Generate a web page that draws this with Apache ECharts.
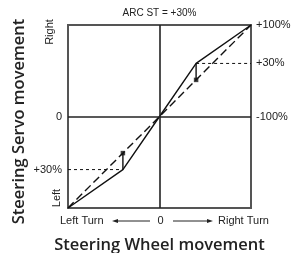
<!DOCTYPE html>
<html><head><meta charset="utf-8">
<script src="https://cdn.jsdelivr.net/npm/echarts@6/dist/echarts.min.js"></script>
<style>html,body{margin:0;padding:0;background:#fff}#c{width:292px;height:253px}</style>
</head><body><div id="c"></div>
<script>
// ---- data ----
const titleText = 'ARC ST = +30%';
const wheelX = [-100, -40, 0, 40, 100];          // steering wheel positions (%)
const servoCurve = [-100, -58, 0, 58, 100];      // servo output with ARC +30%
const linearX = [-100, 100];
const linearY = [-100, 100];                     // linear reference
const arcX = [-40, 40];
const arcLinearY = [-40, 40];
const arcCurveY = [-58, 58];
const rightLabels = ['+100%', '+30%', '-100%'];
const rightLabelVals = [100, 58, 0];
const leftLabels = ['0', '+30%'];
const leftLabelVals = [0, -58];
const leftRotLabels = ['Right', 'Left'];
const bottomLabels = ['Left Turn', '0', 'Right Turn'];
const xName = 'Steering Wheel movement';
const yName = 'Steering Servo movement';

const FONT = '"Liberation Sans", Arial, sans-serif';
const NAMEFONT = '600 16.5px "Open Sans", "Liberation Sans", sans-serif';
const chart = echarts.init(document.getElementById('c'), null, {renderer: 'canvas'});

const curve = wheelX.map((x, i) => [x, servoCurve[i]]);
const lin = linearX.map((x, i) => [x, linearY[i]]);
const series = [
  {type: 'line', data: lin, symbol: 'none', lineStyle: {color: '#111', width: 1.4, type: [8, 4]}, z: 3},
  {type: 'line', data: curve, symbol: 'none', lineStyle: {color: '#111', width: 1.4}, z: 4},
  {type: 'line', data: [[arcX[1], arcCurveY[1]], [100, arcCurveY[1]]], symbol: 'none', lineStyle: {color: '#111', width: 1, type: [3, 3]}},
  {type: 'line', data: [[-100, arcCurveY[0]], [arcX[0], arcCurveY[0]]], symbol: 'none', lineStyle: {color: '#111', width: 1, type: [3, 3]}},
  {type: 'scatter', data: arcX.map((x, i) => [x, arcLinearY[i]]), symbol: 'rect', symbolSize: 4.5, itemStyle: {color: '#111'}, z: 6}
];
arcX.forEach((x, i) => {
  series.push({type: 'line', data: [[x, arcLinearY[i]], [x, arcCurveY[i]]], symbol: 'none', showSymbol: false,
    itemStyle: {color: '#111'}, lineStyle: {color: '#111', width: 1.4}, z: 5});
});
series.push({type: 'line', data: [], markLine: {silent: true, symbol: 'none', label: {show: false},
  lineStyle: {color: '#222', width: 1.6, type: 'solid'}, data: [{xAxis: 0}, {yAxis: 0}]}});

chart.setOption({
  animation: false,
  color: ['#111'],
  grid: {left: 68, top: 25, width: 183, height: 183, show: true, borderColor: '#555', borderWidth: 2, backgroundColor: 'transparent'},
  xAxis: {type: 'value', min: -100, max: 100, axisLine: {show: false}, axisTick: {show: false}, axisLabel: {show: false}, splitLine: {show: false}},
  yAxis: {type: 'value', min: -100, max: 100, axisLine: {show: false}, axisTick: {show: false}, axisLabel: {show: false}, splitLine: {show: false}},
  series: series
});

const px = (x, y) => chart.convertToPixel({gridIndex: 0}, [x, y]);
const [x0, y0] = px(0, 0);
const [xL, yT] = px(-100, 100);
const [xR, yB] = px(100, -100);
const g = [];
const txt = (text, x, y, opt) => g.push(Object.assign({type: 'text', x: x, y: y,
  style: Object.assign({text: text, font: '11px ' + FONT, fill: '#222', textAlign: 'left', textVerticalAlign: 'middle'}, opt || {})}));

txt(titleText, x0, 13, {textAlign: 'center', font: '10px ' + FONT});
rightLabels.forEach((t, i) => txt(t, xR + 5, px(0, rightLabelVals[i])[1], {font: '11px ' + FONT}));
leftLabels.forEach((t, i) => txt(t, xL - 6, px(0, leftLabelVals[i])[1], {textAlign: 'right', font: '11px ' + FONT}));
g.push({type: 'text', x: 50, y: 32, rotation: Math.PI / 2, style: {text: leftRotLabels[0], font: '11px ' + FONT, fill: '#222', textAlign: 'center', textVerticalAlign: 'middle'}});
g.push({type: 'text', x: 57, y: 198, rotation: Math.PI / 2, style: {text: leftRotLabels[1], font: '11px ' + FONT, fill: '#222', textAlign: 'center', textVerticalAlign: 'middle'}});
const by = yB + 13;
txt(bottomLabels[0], 60, by, {font: '11px ' + FONT});
txt(bottomLabels[1], x0 + 1, by, {textAlign: 'center', font: '11px ' + FONT});
txt(bottomLabels[2], 218, by, {font: '11px ' + FONT});
// arrows
g.push({type: 'line', shape: {x1: 115, y1: by, x2: 150, y2: by}, style: {stroke: '#222', lineWidth: 1}});
g.push({type: 'polygon', shape: {points: [[112, by], [118, by - 2], [118, by + 2]]}, style: {fill: '#222'}});
g.push({type: 'line', shape: {x1: 173, y1: by, x2: 210, y2: by}, style: {stroke: '#222', lineWidth: 1}});
g.push({type: 'polygon', shape: {points: [[213, by], [207, by - 2], [207, by + 2]]}, style: {fill: '#222'}});
// axis names
txt(xName, x0, 245, {textAlign: 'center', font: NAMEFONT, fill: '#222'});
g.push({type: 'text', x: 19, y: 121.5, rotation: Math.PI / 2, style: {text: yName, font: NAMEFONT, fill: '#222', textAlign: 'center', textVerticalAlign: 'middle'}});
chart.setOption({graphic: g});
</script></body></html>
